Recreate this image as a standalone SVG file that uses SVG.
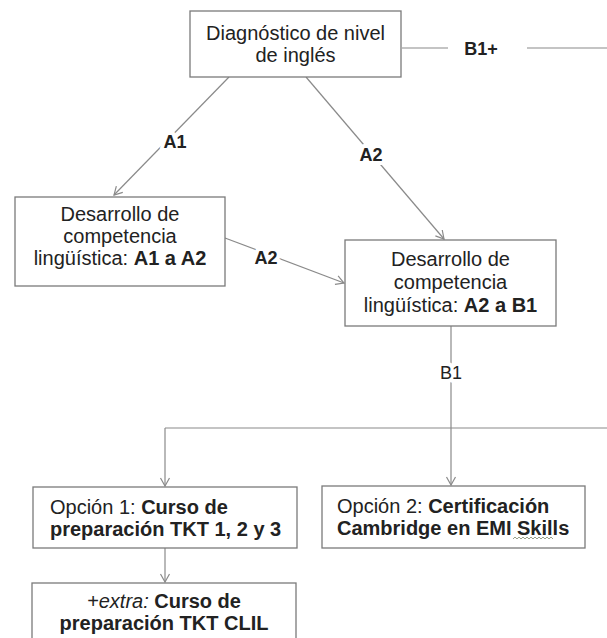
<svg xmlns="http://www.w3.org/2000/svg" width="607" height="638" viewBox="0 0 607 638">
<style>
.box{fill:#fff;stroke:#7a7a7a;stroke-width:1.3}
.t{font-family:"Liberation Sans",Arial,sans-serif;font-size:20px;fill:#222}
.c{text-anchor:middle}
.b{font-weight:bold}
.i{font-style:italic}
.ln{stroke:#8a8a8a;stroke-width:1.2;fill:none}
.lbl{font-family:"Liberation Sans",Arial,sans-serif;font-size:18px;fill:#222;text-anchor:middle;stroke:#fff;stroke-width:8px;paint-order:stroke;stroke-linejoin:round}
</style>
<defs>
<marker id="arr" markerWidth="12" markerHeight="12" refX="10" refY="6" orient="auto" markerUnits="userSpaceOnUse">
<path d="M2,1.5 L10,6 L2,10.5" fill="none" stroke="#8a8a8a" stroke-width="1.2"/>
</marker>
</defs>
<rect width="607" height="638" fill="#fff"/>
<g id="connectors">
<line class="ln" x1="402" y1="48" x2="448" y2="48"/>
<line class="ln" x1="527" y1="48" x2="607" y2="48"/>
<text class="lbl b" x="481" y="55" font-size="18">B1+</text>
<line class="ln" x1="229" y1="77" x2="114" y2="195" marker-end="url(#arr)"/>
<text class="lbl b" x="175" y="148">A1</text>
<line class="ln" x1="306" y1="77" x2="444" y2="239" marker-end="url(#arr)"/>
<text class="lbl b" x="371" y="161">A2</text>
<line class="ln" x1="225" y1="238" x2="344" y2="283" marker-end="url(#arr)"/>
<text class="lbl b" x="266" y="264">A2</text>
<line class="ln" x1="451" y1="326" x2="451" y2="428"/>
<text class="lbl" x="451" y="379" font-size="19">B1</text>
<line class="ln" x1="165" y1="428" x2="607" y2="428"/>
<line class="ln" x1="165" y1="428" x2="165" y2="486" marker-end="url(#arr)"/>
<line class="ln" x1="451" y1="428" x2="451" y2="485" marker-end="url(#arr)"/>
<line class="ln" x1="165" y1="548" x2="165" y2="582" marker-end="url(#arr)"/>
</g>
<g id="diagnostico">
<rect class="box" x="190" y="11" width="211" height="66"/>
<text class="t c" x="295.5" y="40">Diagnóstico de nivel</text>
<text class="t c" x="295.5" y="62">de inglés</text>
</g>
<g id="a1a2">
<rect class="box" x="15" y="197" width="210" height="89"/>
<text class="t c" x="120" y="221">Desarrollo de</text>
<text class="t c" x="120" y="243">competencia</text>
<text class="t c" x="120" y="265">lingüística: <tspan class="b">A1 a A2</tspan></text>
</g>
<g id="a2b1">
<rect class="box" x="345" y="240" width="211" height="86"/>
<text class="t c" x="450.5" y="266">Desarrollo de</text>
<text class="t c" x="450.5" y="289">competencia</text>
<text class="t c" x="450.5" y="312">lingüística: <tspan class="b">A2 a B1</tspan></text>
</g>
<g id="opcion1">
<rect class="box" x="33" y="487" width="264" height="61"/>
<text class="t" x="50" y="514">Opción 1: <tspan class="b">Curso de</tspan></text>
<text class="t b" x="50" y="536">preparación TKT 1, 2 y 3</text>
</g>
<g id="opcion2">
<rect class="box" x="322" y="486" width="263" height="62"/>
<text class="t" x="337" y="513">Opción 2: <tspan class="b">Certificación</tspan></text>
<text class="t b" x="337" y="535">Cambridge en EMI Skills</text>
<path d="M513,539 l2,-2 l2,2 l2,-2 l2,2 l2,-2 l2,2 l2,-2 l2,2 l2,-2 l2,2 l2,-2 l2,2 l2,-2 l2,2 l2,-2 l2,2 l2,-2 l2,2 l2,-2 l2,2" fill="none" stroke="#9aa08a" stroke-width="1"/>
</g>
<g id="extra">
<rect class="box" x="32" y="583" width="264" height="70"/>
<text class="t c" x="164" y="608"><tspan class="i">+extra:</tspan> <tspan class="b">Curso de</tspan></text>
<text class="t c b" x="164" y="630">preparación TKT CLIL</text>
</g>
</svg>
